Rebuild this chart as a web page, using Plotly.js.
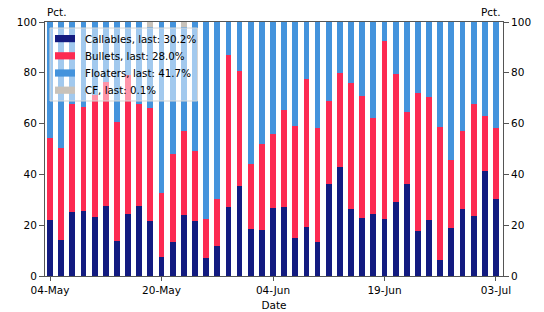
<!DOCTYPE html>
<html>
<head>
<meta charset="utf-8">
<script src="https://cdn.plot.ly/plotly-3.0.1.min.js"></script>
<style>html,body{margin:0;padding:0;background:#fff;}#chart{width:544px;height:312px;}</style>
</head>
<body>
<div id="chart"></div>
<script>
const dates = ["04-May","05-May","06-May","07-May","10-May","11-May","12-May","17-May","18-May","19-May","20-May",
  "21-May","25-May","26-May","27-May","28-May","31-May","01-Jun","02-Jun","03-Jun","04-Jun",
  "08-Jun","09-Jun","10-Jun","11-Jun","12-Jun","15-Jun","16-Jun","17-Jun","18-Jun","19-Jun",
  "22-Jun","23-Jun","24-Jun","25-Jun","26-Jun","29-Jun","30-Jun","01-Jul","02-Jul","03-Jul"];
const callables = [21.9,14.0,25.2,25.5,23.2,27.6,13.6,24.6,27.6,21.5,7.4,
  13.4,23.9,21.7,7.0,11.7,27.1,35.5,18.5,18.0,26.8,
  27.2,15.1,19.3,13.4,36.1,42.9,26.5,22.9,24.3,22.4,
  29.2,36.1,17.6,21.9,6.4,19.0,26.5,23.8,41.4,30.2];
const bullets = [32.3,36.5,42.4,41.2,48.1,48.9,46.9,54.7,40.0,44.8,25.1,
  34.6,33.3,27.6,15.5,18.6,60.0,45.4,25.5,34.1,29.1,
  38.2,43.9,58.2,44.7,32.8,37.2,49.3,48.0,37.8,70.3,
  50.2,28.3,54.6,48.7,52.2,26.6,30.7,44.1,21.6,28.0];
const floaters = [45.8,49.5,32.4,33.3,28.7,23.5,39.5,20.7,32.4,31.7,67.5,
  52.0,40.8,50.7,77.5,69.7,12.9,19.1,56.0,47.9,44.1,
  34.6,41.0,22.5,41.9,31.1,19.9,24.2,29.1,37.9,7.3,
  20.6,35.6,27.8,29.4,41.4,54.4,42.8,32.1,37.0,41.7];
const cf = [0,0,0,0,0,0,0,0,0,2.0,0,
  0,2.0,0,0,0,0,0,0,0,0,
  0,0,0,0,0,0,0,0,0,0,
  0,0,0,0,0,0,0,0,0,0.1];
const seriesNames = ["Callables","Bullets","Floaters","CF"];
const seriesColors = ["#131b80","#fc2a52","#4493dc","#c8c2ba"];
const tickLabels = ["04-May","20-May","04-Jun","19-Jun","03-Jul"];
const yTicks = [0,20,40,60,80,100];

const seriesData = [callables, bullets, floaters, cf];
const last = a => a[a.length-1].toFixed(1);
const FONT = {family: "DejaVu Sans, sans-serif", size: 10.5, color: "#000"};
const LFONT = {family: "DejaVu Sans, sans-serif", size: 10.3, color: "#000"};

// plot-area geometry (pixels)
const W = 544, H = 312, ML = 45, MR = 41, MT = 22, MB = 36;
const PW = W - ML - MR, PH = H - MT - MB;
const px = p => (p - ML) / PW;
const py = p => (H - MB - p) / PH;

const traces = seriesData.map((d, i) => ({
  type: "bar", name: seriesNames[i], x: dates, y: d,
  marker: {color: seriesColors[i], line: {width: 0}}, hoverinfo: "skip", showlegend: false
}));
traces.push({type: "scatter", x: [], y: [], yaxis: "y2", showlegend: false, hoverinfo: "skip"});

// custom legend (matplotlib style)
const shapes = [{
  type: "rect", xref: "paper", yref: "paper", layer: "above",
  x0: px(50), x1: px(197.5), y0: py(101), y1: py(28),
  fillcolor: "rgba(255,255,255,0.5)", line: {color: "#d4d4d4", width: 1}
}];
const annotations = [
  {text: "Pct.", xref: "paper", yref: "paper", x: 0, y: 1, xanchor: "left", yanchor: "bottom", yshift: 2, showarrow: false, font: FONT},
  {text: "Pct.", xref: "paper", yref: "paper", x: 1, y: 1, xanchor: "right", yanchor: "bottom", yshift: 2, showarrow: false, font: FONT}
];
const rowY = [38.6, 55.8, 73.0, 90.2];
seriesNames.forEach((n, i) => {
  shapes.push({
    type: "rect", xref: "paper", yref: "paper", layer: "above",
    x0: px(55), x1: px(75), y0: py(rowY[i] + 3.6), y1: py(rowY[i] - 3.6),
    fillcolor: seriesColors[i], line: {width: 0}
  });
  annotations.push({
    text: n + ", last: " + last(seriesData[i]) + "%",
    xref: "paper", yref: "paper", x: px(82.5), y: py(rowY[i]),
    xanchor: "left", yanchor: "middle", showarrow: false, font: LFONT
  });
});

const axisLine = "#555";
const layout = {
  width: W, height: H,
  margin: {l: ML, r: MR, t: MT, b: MB, pad: 0},
  paper_bgcolor: "#fff", plot_bgcolor: "#fff",
  font: FONT,
  barmode: "stack",
  bargap: 0.48,
  showlegend: false,
  xaxis: {
    type: "category", range: [-0.45, 40.63],
    tickmode: "array", tickvals: tickLabels, ticktext: tickLabels,
    ticks: "outside", ticklen: 4, tickcolor: axisLine,
    showline: true, linecolor: axisLine, linewidth: 1, mirror: true,
    showgrid: false, zeroline: false,
    title: {text: "Date", font: FONT, standoff: 7},
    tickfont: FONT
  },
  yaxis: {
    range: [0, 100], tickvals: yTicks,
    ticks: "outside", ticklen: 5, tickcolor: axisLine,
    showline: true, linecolor: axisLine, linewidth: 1,
    showgrid: false, zeroline: false, tickfont: FONT
  },
  yaxis2: {
    range: [0, 100], tickvals: yTicks, overlaying: "y", side: "right",
    ticks: "outside", ticklen: 5, tickcolor: axisLine,
    showline: true, linecolor: axisLine, linewidth: 1,
    showgrid: false, zeroline: false, tickfont: FONT
  },
  shapes: shapes,
  annotations: annotations
};

Plotly.newPlot("chart", traces, layout, {displayModeBar: false, staticPlot: true});
</script>
</body>
</html>
